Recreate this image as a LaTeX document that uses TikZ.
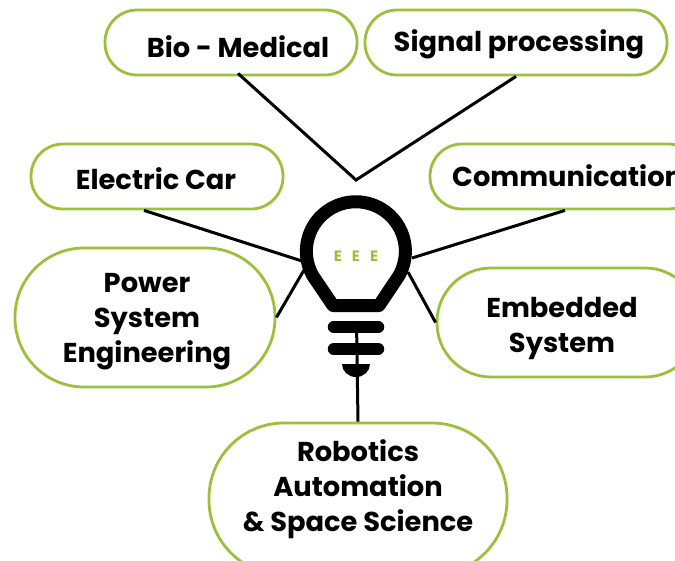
\documentclass[tikz,border=0pt]{standalone}
\usepackage{fontspec}
\setmainfont{Poppins}
\definecolor{leaf}{HTML}{9BC13C}
\usetikzlibrary{calc}
\tikzset{
  pill/.style={draw=leaf,line width=2.8pt,fill=white,rounded corners=#1,inner sep=0pt},
  lbl/.style={font=\fontsize{27.3}{35}\selectfont\bfseries,text=black,align=center,inner sep=0pt},
  link/.style={draw=black,line width=3pt},
  barshape/.style={line width=12.5pt,line cap=round,draw=black}
}
\begin{document}
\begin{tikzpicture}[x=1pt,y=-1pt]
\useasboundingbox (0,0) rectangle (675,560);
\clip (0,0) rectangle (675,560);
% pills
\node[pill=32pt,minimum width=252pt,minimum height=65pt] (bio) at (231,42.5) {};
\node[pill=32pt,minimum width=302pt,minimum height=65pt] (sig) at (516,42.5) {};
\node[pill=32pt,minimum width=252pt,minimum height=65pt] (car) at (157,176.5) {};
\node[pill=32pt,minimum width=270pt,minimum height=65pt] (com) at (565,176.5) {};
\node[pill=69pt,minimum width=260pt,minimum height=139pt] (pow) at (145,317.5) {};
\node[pill=54pt,minimum width=262pt,minimum height=109pt] (emb) at (568,322.5) {};
\node[pill=75pt,minimum width=298pt,minimum height=152pt] (rob) at (358,499) {};
% labels
\node[lbl] (biot) at (238,46.5) {Bio - Medical};
\node[lbl] (sigt) at (519,44) {Signal processing};
\node[lbl] (cart) at (156,179) {Electric Car};
\node[lbl,anchor=west] (comt) at (452,176) {Communication};
\node[lbl] (powt) at (147,322) {Power\\System\\Engineering};
\node[lbl] (embt) at (562,329) {Embedded\\System};
\node[lbl] (robt) at (358,489) {Robotics\\Automation\\\& Space Science};
% connectors
\coordinate (tip) at (356,180);
\coordinate (bl) at (302,261);
\coordinate (br) at (412,258);
\coordinate (bll) at (304,270);
\coordinate (brr) at (408,272);
\coordinate (stem) at (356.5,321);
\draw[link] ($(bio.south)+(7,-3)$) -- (tip) -- (sig.south);
\draw[link] ($(car.south)+(-13,0)$) -- (bl);
\draw[link] (com.south) -- (br);
\draw[link] (pow.east) -- (bll);
\draw[link] (emb.west) -- (brr);
\draw[link] (stem) -- (rob.north);
% bulb
\draw[line width=13pt,line join=round,draw=black] (313,276) arc[start angle=150,end angle=390,radius=49.5] -- (379,305.5) -- (333,305.5) -- cycle;
\draw[barshape] (334,327) -- (378,327);
\draw[barshape] (334,349) -- (378,349);
\fill[black] (342,364) -- (370,364) arc[start angle=0,end angle=180,x radius=14,y radius=13] -- cycle;
\node[text=leaf,font=\fontsize{15}{15}\selectfont\bfseries] (eee) at (356,256) {\spaceskip=10pt E E E};
\end{tikzpicture}
\end{document}
